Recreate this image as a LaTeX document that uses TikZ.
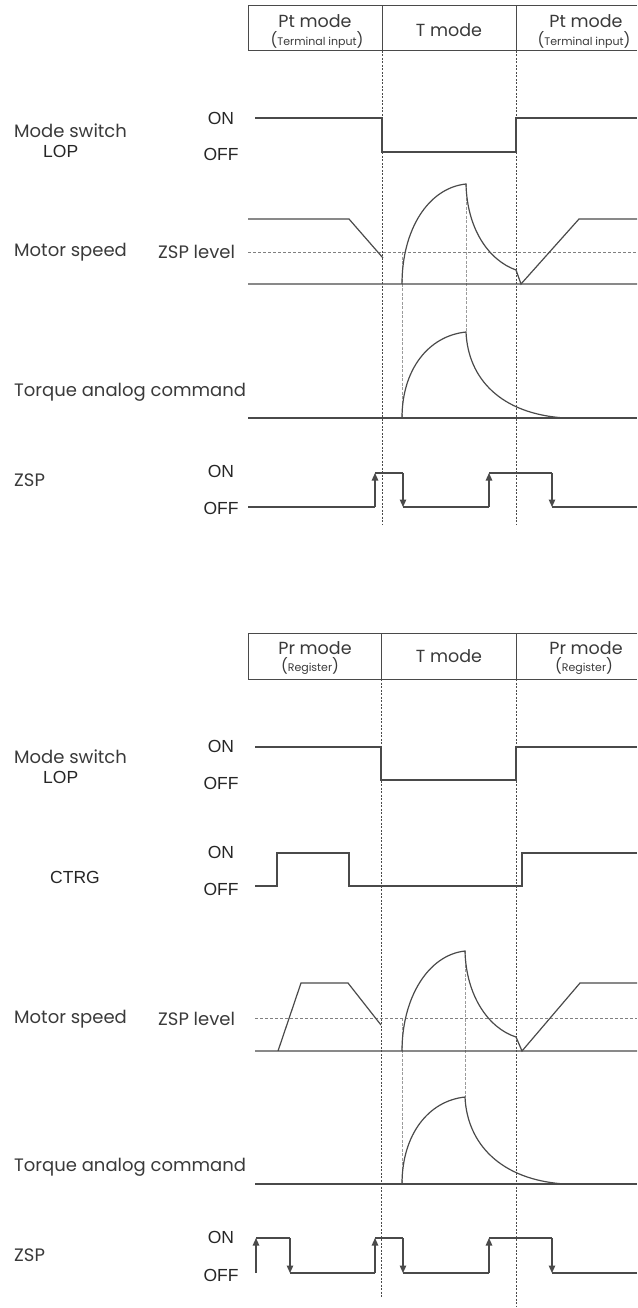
\documentclass[tikz,border=0pt]{standalone}
\usepackage{fontspec}
\setmainfont{Poppins}
\newfontfamily\arialfont{Liberation Sans}
\usetikzlibrary{arrows.meta}
\definecolor{ink}{HTML}{4A4A4A}
\definecolor{txt}{HTML}{3A3A3A}
\newcommand\subtxt[1]{{\fontsize{15}{16}\selectfont(}{\fontsize{11}{12}\selectfont#1}{\fontsize{15}{16}\selectfont)}}
\tikzset{
  sig/.style={draw=ink, line width=1.2pt},
  sigarr/.style={sig, -{Triangle[length=7.5pt,width=6.5pt]}},
  guide/.style={draw=ink, line width=0.7pt, dash pattern=on 2pt off 1.5pt},
  faint/.style={draw=ink!55, line width=0.6pt, dash pattern=on 3pt off 1.5pt},
  lvl/.style={draw=ink!70, line width=0.7pt, dash pattern=on 3pt off 2pt},
  lbl/.style={text=txt, font=\fontsize{18}{20}\selectfont, inner sep=0pt, anchor=west},
  state/.style={text=black!85, font=\arialfont\fontsize{17.5}{18}\selectfont, inner sep=0pt},
  cell/.style={text=txt, font=\fontsize{17.5}{18}\selectfont, inner sep=0pt},
}
\begin{document}
\begin{tikzpicture}[x=1pt,y=-1pt]
\useasboundingbox (0,0) rectangle (637,1308);

% ---- upper chart: Pt mode
\draw[sig, line width=1pt] (637,6) -- (248,6) -- (248,51) -- (637,51);
\draw[sig, line width=1pt] (382,6) -- (382,51) (516,6) -- (516,51);
\node[cell] (pt1) at (315,21) {Pt mode};
\node[cell] (pt1s) at (317,40) {\subtxt{Terminal input}};
\node[cell] (tm1) at (449,30) {T mode};
\node[cell] (pt2) at (586,21) {Pt mode};
\node[cell] (pt2s) at (584,40) {\subtxt{Terminal input}};

\node[lbl] (ms1) at (14,131) {Mode switch};
\node[state, anchor=west] (lop1) at (43,151) {LOP};
\node[state] (on1) at (221,118) {ON};
\node[state] (off1) at (221,154) {OFF};
\node[lbl] (sp1) at (14,252) {Motor speed};
\node[lbl] (zl1) at (158,252) {ZSP level};
\node[lbl] (tq1) at (14,392) {Torque analog command};
\node[lbl] (zsp1) at (14,480) {ZSP};
\node[state] (on2) at (221,471) {ON};
\node[state] (off2) at (221,508) {OFF};

\draw[guide] (382,51) -- (382,525) (516,51) -- (516,525);
\draw[faint] (402,252) -- (402,418) (466,184) -- (466,332);
\draw[lvl] (248,252) -- (637,252);

\draw[sig] (255,118) -- (382,118) -- (382,152) -- (516,152) -- (516,118) -- (637,118);
\draw[sig] (248,284) -- (637,284) (248,219) -- (349,219) -- (383,258);
\draw[sig] (402,284) .. controls (402,230) and (428,188) .. (466,184)
  .. controls (467,228) and (488,260) .. (516,270) -- (521,284) -- (579,219) -- (637,219);
\draw[sig] (248,418) -- (637,418);
\draw[sig] (402,418) .. controls (402,370) and (428,336) .. (466,332)
  .. controls (468,378) and (500,414) .. (565,418);
\draw[sig] (248,507) -- (375,507) (375,473) -- (403,473) (403,507) -- (489,507)
  (489,473) -- (552,473) (552,507) -- (637,507);
\foreach \x/\a/\b in {375/507/473, 403/473/507, 489/507/473, 552/473/507}
  \draw[sigarr] (\x,\a) -- (\x,\b);

% ---- lower chart: Pr mode
\draw[sig, line width=1pt] (637,633) -- (248,633) -- (248,679) -- (637,679);
\draw[sig, line width=1pt] (381,633) -- (381,679) (516,633) -- (516,679);
\node[cell] (pr1) at (315,648) {Pr mode};
\node[cell] (pr1s) at (310,666) {\subtxt{Register}};
\node[cell] (tm2) at (449,656) {T mode};
\node[cell] (pr2) at (586,648) {Pr mode};
\node[cell] (pr2s) at (584,666) {\subtxt{Register}};

\node[lbl] (ms2) at (14,757) {Mode switch};
\node[state, anchor=west] (lop2) at (43,777) {LOP};
\node[state] (on3) at (221,746) {ON};
\node[state] (off3) at (221,783) {OFF};
\node[state, anchor=west] (ctrg) at (50,877) {CTRG};
\node[state] (on4) at (221,852) {ON};
\node[state] (off4) at (221,889) {OFF};
\node[lbl] (sp2) at (14,1019) {Motor speed};
\node[lbl] (zl2) at (158,1019) {ZSP level};
\node[lbl] (tq2) at (14,1167) {Torque analog command};
\node[lbl] (zsp2) at (14,1255) {ZSP};
\node[state] (on5) at (221,1237) {ON};
\node[state] (off5) at (221,1275) {OFF};

\draw[guide] (381,679) -- (381,1297) (516,679) -- (516,1307);
\draw[faint] (402,1018) -- (402,1184) (465,951) -- (465,1097);
\draw[lvl] (255,1018) -- (637,1018);

\draw[sig] (255,747) -- (381,747) -- (381,780) -- (516,780) -- (516,747) -- (637,747);
\draw[sig] (255,886) -- (277,886) -- (277,853) -- (349,853) -- (349,886) -- (522,886) -- (522,853) -- (637,853);
\draw[sig] (255,1051) -- (637,1051) (278,1051) -- (301,983) -- (348,983) -- (381,1025);
\draw[sig] (402,1051) .. controls (402,998) and (428,955) .. (465,951)
  .. controls (466,995) and (488,1028) .. (516,1037) -- (522,1051) -- (580,983) -- (637,983);
\draw[sig] (255,1184) -- (637,1184);
\draw[sig] (402,1184) .. controls (402,1135) and (428,1101) .. (465,1097)
  .. controls (467,1143) and (500,1180) .. (565,1184);
\draw[sig] (256,1238) -- (290,1238) (290,1273) -- (375,1273) (375,1238) -- (403,1238)
  (403,1273) -- (489,1273) (489,1238) -- (552,1238) (552,1273) -- (637,1273);
\foreach \x/\a/\b in {256/1273/1238, 290/1238/1273, 375/1273/1238, 403/1238/1273, 489/1273/1238, 552/1238/1273}
  \draw[sigarr] (\x,\a) -- (\x,\b);
\end{tikzpicture}
\end{document}
